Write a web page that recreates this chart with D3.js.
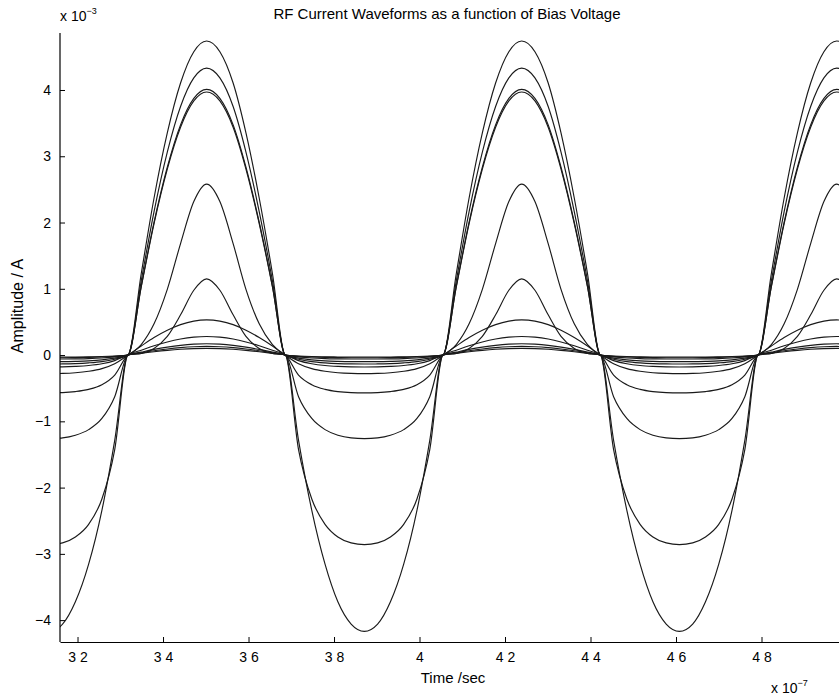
<!DOCTYPE html>
<html><head><meta charset="utf-8">
<script src="https://cdn.jsdelivr.net/npm/d3@7"></script>
<style>
body{margin:0;background:#fff}
text{font-family:"Liberation Sans",Arial,Helvetica,sans-serif;fill:#000}
</style>
</head><body>
<svg id="chart" width="839" height="698"></svg>
<script>
// one period of the RF waveform, starting at a rising zero crossing (units: 1e-7 s)
const periodTimes = [3.318,3.349,3.379,3.410,3.441,3.472,3.502,3.533,3.564,3.594,3.625,3.656,
                     3.686,3.717,3.748,3.779,3.809,3.840,3.871,3.902,3.932,3.963,3.994,4.024];
const period = 0.737;

// current samples (units: 1e-3 A) for each bias voltage, one period each
const w1  = [0,1.227,2.37,3.352,4.105,4.578,4.74,4.578,4.105,3.352,2.37,1.227,0,-0.014,-0.022,-0.026,-0.029,-0.030,-0.03,-0.030,-0.029,-0.026,-0.022,-0.014];
const w2  = [0,1.121,2.165,3.062,3.75,4.182,4.33,4.182,3.75,3.062,2.165,1.121,0,-0.019,-0.029,-0.035,-0.038,-0.04,-0.04,-0.04,-0.038,-0.035,-0.029,-0.019];
const w3  = [0,1.038,2.005,2.835,3.473,3.873,4.01,3.873,3.473,2.835,2.005,1.038,0,-0.028,-0.044,-0.053,-0.057,-0.059,-0.06,-0.059,-0.057,-0.053,-0.044,-0.028];
const w4  = [0,1.027,1.985,2.807,3.438,3.835,3.97,3.835,3.438,2.807,1.985,1.027,0,-0.047,-0.073,-0.088,-0.095,-0.099,-0.1,-0.099,-0.095,-0.088,-0.073,-0.047];
const w5  = [0,0.159,0.471,0.992,1.682,2.316,2.58,2.316,1.682,0.992,0.471,0.159,0,-0.063,-0.099,-0.118,-0.129,-0.134,-0.135,-0.134,-0.129,-0.118,-0.099,-0.063];
const w6  = [0,0.025,0.1,0.282,0.607,0.978,1.15,0.978,0.607,0.282,0.1,0.025,0,-0.084,-0.132,-0.158,-0.171,-0.178,-0.18,-0.178,-0.171,-0.158,-0.132,-0.084];
const w7  = [0,0.137,0.265,0.375,0.459,0.512,0.53,0.512,0.459,0.375,0.265,0.137,0,-0.131,-0.205,-0.245,-0.267,-0.277,-0.28,-0.277,-0.267,-0.245,-0.205,-0.131];
const w8  = [0,0.072,0.14,0.198,0.242,0.27,0.28,0.27,0.242,0.198,0.14,0.072,0,-0.302,-0.448,-0.518,-0.551,-0.566,-0.57,-0.566,-0.551,-0.518,-0.448,-0.302];
const w9  = [0,0.044,0.085,0.12,0.147,0.164,0.17,0.164,0.147,0.12,0.085,0.044,0,-0.628,-0.957,-1.125,-1.209,-1.249,-1.26,-1.249,-1.209,-1.125,-0.957,-0.628];
const w10 = [0,0.034,0.065,0.092,0.113,0.126,0.13,0.126,0.113,0.092,0.065,0.034,0,-1.426,-2.172,-2.554,-2.745,-2.834,-2.86,-2.834,-2.745,-2.554,-2.172,-1.426];
const w11 = [0,0.026,0.05,0.071,0.087,0.097,0.1,0.097,0.087,0.071,0.05,0.026,0,-1.286,-2.344,-3.156,-3.724,-4.06,-4.17,-4.06,-3.724,-3.156,-2.344,-1.286];
const waveforms = [w1,w2,w3,w4,w5,w6,w7,w8,w9,w10,w11];
const periodShifts = [-1,0,1,2];

const xTickValues = [3.2,3.4,3.6,3.8,4.0,4.2,4.4,4.6,4.8];
const xTickLabels = ["3 2","3 4","3 6","3 8","4","4 2","4 4","4 6","4 8"];
const yTickValues = [-4,-3,-2,-1,0,1,2,3,4];
const yTickLabels = ["\u22124","\u22123","\u22122","\u22121","0","1","2","3","4"];

const titleText = "RF Current Waveforms as a function  of Bias Voltage";
const xLabelText = "Time /sec";
const yLabelText = "Amplitude / A";

const svg = d3.select("#chart");
const pL = 60, pR = 847, pT = 33, pB = 642;
const x = d3.scaleLinear().domain([3.159, 5.0]).range([pL, pR]);
const y = d3.scaleLinear().domain([-4.33, 4.86]).range([pB, pT]);

svg.append("defs").append("clipPath").attr("id","clip")
  .append("rect").attr("x",pL).attr("y",pT-5).attr("width",pR-pL).attr("height",pB-pT+5);

const line = d3.line().x(d=>x(d[0])).y(d=>y(d[1])).curve(d3.curveMonotoneX);
const g = svg.append("g").attr("clip-path","url(#clip)");
waveforms.forEach(w=>{
  const pts = [];
  periodShifts.forEach(k=>{
    periodTimes.forEach((t,j)=>pts.push([t + k*period, w[j]]));
  });
  g.append("path").attr("d", line(pts)).attr("fill","none")
    .attr("stroke","#1a1a1a").attr("stroke-width",1.15);
});

// axes
const xAxis = d3.axisBottom(x).tickValues(xTickValues)
  .tickFormat((d,i)=>xTickLabels[i]).tickSizeInner(-5).tickSizeOuter(0).tickPadding(10);
const yAxis = d3.axisLeft(y).tickValues(yTickValues)
  .tickFormat((d,i)=>yTickLabels[i]).tickSizeInner(-5).tickSizeOuter(0).tickPadding(9);

const gx = svg.append("g").attr("transform",`translate(0,${pB})`).call(xAxis);
const gy = svg.append("g").attr("transform",`translate(${pL},0)`).call(yAxis);
[gx,gy].forEach(a=>{
  a.select(".domain").attr("stroke","#000").attr("stroke-width",1.2);
  a.selectAll(".tick line").attr("stroke","#000");
  a.selectAll(".tick text").attr("font-size",14).attr("font-family",'"Liberation Sans",Arial,sans-serif');
});
gy.select(".domain").attr("d",`M0,${pB}V${pT}`);

// texts
svg.append("text").attr("x",447).attr("y",19).attr("text-anchor","middle")
  .attr("font-size",15).text(titleText);
svg.append("text").attr("x",453).attr("y",683).attr("text-anchor","middle")
  .attr("font-size",15).text(xLabelText);
svg.append("text").attr("transform","translate(23,306) rotate(-90)").attr("text-anchor","middle")
  .attr("font-size",16).text(yLabelText);

const e1 = svg.append("text").attr("x",60).attr("y",21).attr("font-size",14);
e1.append("tspan").text("x 10");
e1.append("tspan").attr("dy",-7).attr("font-size",9).text("\u22123");
const e2 = svg.append("text").attr("x",771).attr("y",693).attr("font-size",14);
e2.append("tspan").text("x 10");
e2.append("tspan").attr("dy",-7).attr("font-size",9).text("\u22127");
</script>
</body></html>
